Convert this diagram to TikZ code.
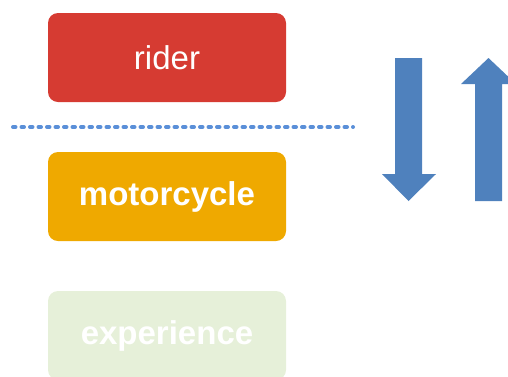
\documentclass[tikz,border=0pt]{standalone}
\usepackage{fontspec}
\setmainfont{Liberation Sans}
\usepackage{tikz}
\usetikzlibrary{positioning}

\definecolor{riderred}{HTML}{D63B32}
\definecolor{bikeorange}{HTML}{EFA900}
\definecolor{expgreen}{HTML}{E6F0D9}
\definecolor{flowblue}{HTML}{4F81BD}
\definecolor{dotblue}{HTML}{5A8FD8}

\begin{document}
\begin{tikzpicture}[x=1pt,y=-1pt,
  box/.style={rounded corners=10pt,minimum width=238pt,minimum height=89pt,
    inner sep=0pt,text=white,font=\fontsize{33}{36}\selectfont}]

\useasboundingbox (0,0) rectangle (508,376);
\clip (0,0) rectangle (508,376);

\def\layers{1/{rider}/riderred/57.5,2/{\bfseries motorcycle}/bikeorange/196.5,3/{\bfseries experience}/expgreen/335.5}
\foreach \i / \element / \col / \y in \layers
  \node [box,fill=\col] (l\i) at (167,\y) {\element};

% split between rider and machine
\coordinate (sl) at (13,127);
\coordinate (sr) at (353,127);
\draw [dotblue,line width=4pt,line cap=round,dash pattern=on 2.5pt off 6pt] (sl) -- (sr);

% top down
\fill [flowblue] (395,58) -- (422,58) -- (422,174) -- (436,174) -- (408.5,201)
  -- (382,174) -- (395,174) -- cycle;

% bottom up
\fill [flowblue] (475,201) -- (502,201) -- (502,84) -- (516,84) -- (488.5,58)
  -- (461,84) -- (475,84) -- cycle;

\end{tikzpicture}
\end{document}
